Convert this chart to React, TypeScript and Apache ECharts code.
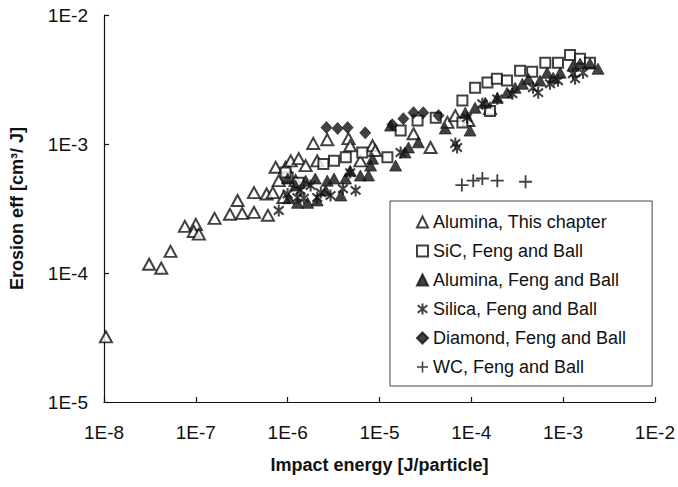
import React, { useEffect, useRef } from "react";
import * as echarts from "echarts";

// Impact energy [J/particle] vs erosion efficiency [cm^3/J]
const aluminaThisChapter: [number, number][] = [
  [1.05e-8, 3.2e-5], [3.1e-8, 1.17e-4], [4.2e-8, 1.09e-4], [5.3e-8, 1.47e-4],
  [7.6e-8, 2.3e-4], [1.0e-7, 2.38e-4], [9.5e-8, 2.1e-4], [1.08e-7, 2.0e-4],
  [1.6e-7, 2.65e-4], [2.35e-7, 2.85e-4], [3.2e-7, 2.9e-4], [4.3e-7, 2.95e-4],
  [6.1e-7, 2.8e-4], [2.85e-7, 3.65e-4], [4.3e-7, 4.2e-4], [5.9e-7, 4.1e-4],
  [6.9e-7, 4.2e-4], [9.0e-7, 3.85e-4], [7.4e-7, 6.6e-4], [9.5e-7, 6.6e-4],
  [8.0e-7, 5.2e-4], [1.08e-6, 7.4e-4], [1.32e-6, 7.7e-4], [1.57e-6, 6.8e-4],
  [2.1e-6, 7.4e-4], [1.9e-6, 1.01e-3], [2.7e-6, 1.08e-3], [4.6e-6, 1.1e-3],
  [4.8e-6, 9.7e-4], [8.4e-6, 9.7e-4], [9.0e-6, 8.9e-4], [2.35e-5, 1.2e-3],
  [3.6e-5, 9.4e-4], [5.5e-5, 1.47e-3], [6.7e-5, 1.66e-3], [9.3e-5, 1.52e-3],
  [1.6e-4, 1.88e-3], [6.2e-6, 7.4e-4], [1.22e-6, 5.2e-4],
];

const sicFengBall: [number, number][] = [
  [1.0e-6, 5.5e-4], [1.32e-6, 5.0e-4], [9.5e-7, 6.0e-4], [2.45e-6, 7.0e-4],
  [3.2e-6, 7.4e-4], [4.3e-6, 7.9e-4], [6.5e-6, 8.6e-4], [1.22e-5, 7.9e-4],
  [1.7e-5, 1.27e-3], [2.6e-5, 1.52e-3], [4.1e-5, 1.6e-3], [8.0e-5, 1.47e-3],
  [8.0e-5, 2.17e-3], [1.1e-4, 2.73e-3], [1.5e-4, 3.0e-3], [1.9e-4, 3.2e-3],
  [2.45e-4, 3.1e-3], [3.4e-4, 3.7e-3], [4.6e-4, 3.63e-3], [6.4e-4, 4.26e-3],
  [8.8e-4, 4.26e-3], [1.19e-3, 4.9e-3], [1.53e-3, 4.57e-3], [1.96e-3, 4.26e-3],
  [1.6e-4, 1.8e-3],
];

const aluminaFengBall: [number, number][] = [
  [1.0e-6, 5.4e-4], [1.03e-6, 3.8e-4], [1.28e-6, 3.5e-4], [1.65e-6, 3.5e-4],
  [2.1e-6, 3.65e-4], [2.7e-6, 5.2e-4], [3.2e-6, 5.4e-4], [4.8e-6, 6.2e-4],
  [6.2e-6, 5.7e-4], [7.6e-6, 5.7e-4], [8.4e-6, 7.7e-4], [8.0e-6, 6.8e-4],
  [1.5e-5, 6.8e-4], [1.9e-5, 8.6e-4], [1.32e-5, 1.39e-3], [2.07e-5, 9.4e-4],
  [2.65e-5, 1.03e-3], [5.2e-5, 1.32e-3], [9.7e-5, 1.27e-3], [8.6e-5, 1.75e-3],
  [1.1e-4, 1.91e-3], [1.42e-4, 2.09e-3], [1.92e-4, 2.28e-3], [2.45e-4, 2.5e-3],
  [3.0e-4, 2.73e-3], [3.6e-4, 2.93e-3], [4.2e-4, 3.2e-3], [5.6e-4, 3.1e-3],
  [6.7e-4, 3.57e-3], [7.8e-4, 3.26e-3], [9.3e-4, 3.57e-3], [1.28e-3, 4.04e-3],
  [1.53e-3, 4.2e-3], [1.96e-3, 4.2e-3], [2.4e-3, 3.83e-3],
  [1.22e-6, 4.77e-4], [1.57e-6, 5.2e-4], [2.0e-6, 5.4e-4], [2.6e-6, 4.37e-4],
  [3.8e-6, 3.99e-4], [4.27e-6, 5.4e-4],
];

const silicaFengBall: [number, number][] = [
  [8.0e-7, 3.05e-4], [1.0e-6, 4.1e-4], [1.28e-6, 3.85e-4], [1.5e-6, 3.8e-4],
  [2.1e-6, 3.85e-4], [2.3e-6, 4.2e-4], [4.0e-6, 4.5e-4], [4.8e-6, 6.0e-4],
  [1.7e-5, 8.6e-4], [6.7e-5, 1.01e-3], [7.0e-5, 9.4e-4], [9.0e-5, 1.6e-3],
  [1.32e-4, 2.05e-3], [1.92e-4, 2.24e-3], [2.8e-4, 2.45e-3], [4.7e-4, 2.73e-3],
  [5.35e-4, 2.5e-3], [7.2e-4, 2.93e-3], [8.8e-4, 3.09e-3], [1.28e-3, 3.5e-3],
  [1.65e-3, 3.57e-3], [1.35e-3, 3.21e-3],
  [1.38e-6, 4.37e-4], [1.78e-6, 4.77e-4], [5.5e-6, 4.37e-4], [2.93e-6, 3.99e-4],
];

const diamondFengBall: [number, number][] = [
  [2.65e-6, 1.34e-3], [3.5e-6, 1.32e-3], [4.5e-6, 1.34e-3], [7.0e-6, 1.22e-3],
  [1.38e-5, 1.41e-3], [1.82e-5, 1.57e-3], [2.35e-5, 1.75e-3], [3.0e-5, 1.75e-3],
  [4.4e-5, 1.66e-3],
];

const wcFengBall: [number, number][] = [
  [7.9e-5, 4.8e-4], [1.05e-4, 5.2e-4], [1.32e-4, 5.4e-4], [1.92e-4, 5.2e-4],
  [3.9e-4, 5.1e-4],
];

const seriesNames = [
  "Alumina, This chapter",
  "SiC, Feng and Ball",
  "Alumina, Feng and Ball",
  "Silica, Feng and Ball",
  "Diamond, Feng and Ball",
  "WC, Feng and Ball",
];

const FONT = "'Liberation Sans', Arial, Helvetica, sans-serif";
const INK = "#111";

// Solid outlines so the marks keep a heavy, printed look at any scale
const asteriskPath =
  "path://M4.1,0 L5.9,0 L5.9,10 L4.1,10 Z " +
  "M1.15,0.888 L9.95,7.688 L8.85,9.112 L0.05,2.312 Z " +
  "M0.05,7.688 L8.85,0.888 L9.95,2.312 L1.15,9.112 Z";
const plusPath =
  "path://M4.3,0 L5.7,0 L5.7,4.3 L10,4.3 L10,5.7 L5.7,5.7 L5.7,10 L4.3,10 L4.3,5.7 L0,5.7 L0,4.3 L4.3,4.3 Z";

const expLabel = (v: number) => "1E" + Math.round(Math.log10(v));

export default function App() {
  const ref = useRef<HTMLDivElement>(null);

  useEffect(() => {
    if (!ref.current) return;
    const chart = echarts.init(ref.current, null, { renderer: "svg" });

    const open = { color: "#fff", borderColor: INK, borderWidth: 2 };
    const solid = { color: INK, borderColor: INK, borderWidth: 0.8 };
    const glyph = { color: INK, borderWidth: 0 };

    const axisCommon = {
      type: "log",
      logBase: 10,
      nameLocation: "middle",
      nameTextStyle: { fontSize: 18, fontWeight: "bold", color: INK, fontFamily: FONT },
      axisLine: { lineStyle: { color: INK, width: 1.2 } },
      axisTick: { inside: true, length: 5, lineStyle: { color: INK, width: 1.2 } },
      minorTick: { show: false },
      splitLine: { show: false },
    };

    chart.setOption({
      animation: false,
      textStyle: { fontFamily: FONT, color: INK },
      grid: { left: 103, right: 23, top: 15, bottom: 85, containLabel: false },
      xAxis: {
        ...axisCommon,
        min: 1e-8,
        max: 1e-2,
        name: "Impact energy [J/particle]",
        nameGap: 54,
        axisLabel: {
          formatter: expLabel,
          fontSize: 19,
          color: INK,
          margin: 21,
          fontFamily: FONT,
          showMinLabel: true,
          showMaxLabel: true,
        },
      },
      yAxis: {
        ...axisCommon,
        min: 1e-5,
        max: 1e-2,
        name: "Erosion eff [cm³/ J]",
        nameGap: 78,
        nameRotate: 90,
        axisLabel: {
          formatter: expLabel,
          fontSize: 19,
          color: INK,
          margin: 16,
          fontFamily: FONT,
          showMinLabel: true,
          showMaxLabel: true,
        },
      },
      legend: {
        orient: "vertical",
        left: 390,
        top: 201,
        padding: [12, 26, 10, 26],
        itemGap: 11,
        itemWidth: 11,
        itemHeight: 11,
        borderColor: "#444",
        borderWidth: 1,
        backgroundColor: "#fff",
        textStyle: { fontSize: 18, color: INK, fontFamily: FONT },
        data: seriesNames,
      },
      series: [
        {
          name: seriesNames[0],
          type: "scatter",
          data: aluminaThisChapter,
          symbol: "triangle",
          symbolSize: [12, 11],
          itemStyle: open,
        },
        {
          name: seriesNames[1],
          type: "scatter",
          data: sicFengBall,
          symbol: "rect",
          symbolSize: 10,
          itemStyle: open,
        },
        {
          name: seriesNames[2],
          type: "scatter",
          data: aluminaFengBall,
          symbol: "triangle",
          symbolSize: [12, 11],
          itemStyle: solid,
        },
        {
          name: seriesNames[3],
          type: "scatter",
          data: silicaFengBall,
          symbol: asteriskPath,
          symbolSize: [11, 12],
          itemStyle: glyph,
        },
        {
          name: seriesNames[4],
          type: "scatter",
          data: diamondFengBall,
          symbol: "diamond",
          symbolSize: [11, 12],
          itemStyle: solid,
        },
        {
          name: seriesNames[5],
          type: "scatter",
          data: wcFengBall,
          symbol: plusPath,
          symbolSize: 13,
          itemStyle: glyph,
        },
      ],
    });

    return () => chart.dispose();
  }, []);

  return (
    <div
      ref={ref}
      style={{ position: "fixed", left: 0, top: 0, width: 678, height: 487, background: "#fff" }}
    />
  );
}
